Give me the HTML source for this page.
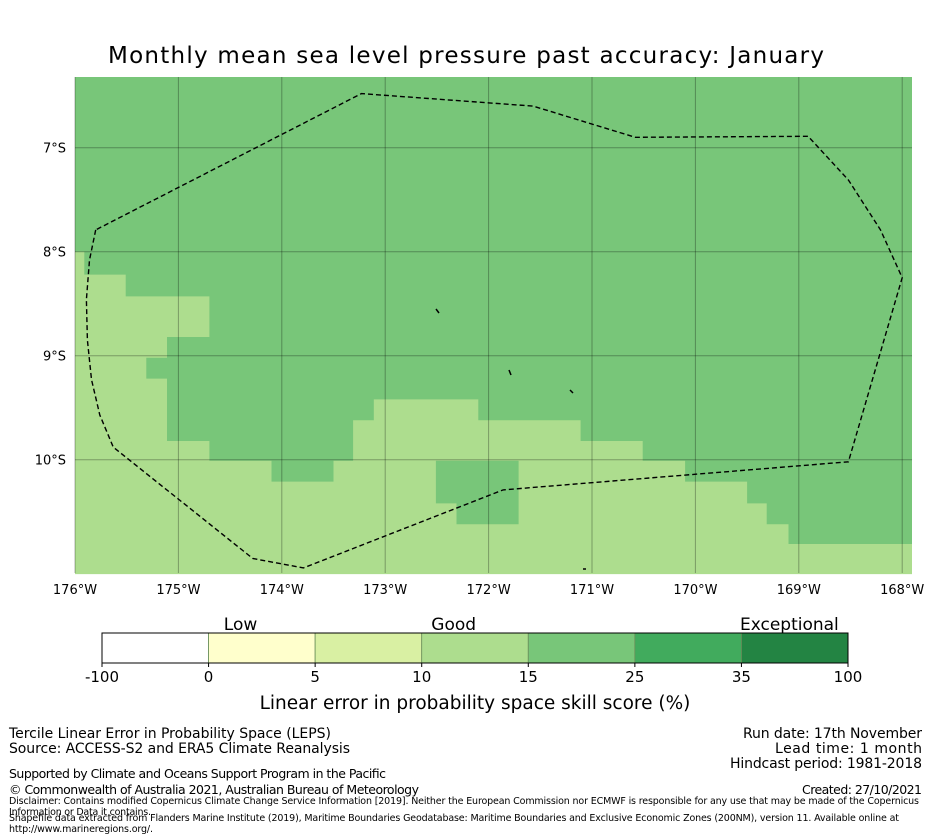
<!DOCTYPE html>
<html><head><meta charset="utf-8"><style>
body{margin:0;background:#fff;}
svg{display:block;font-family:"DejaVu Sans","Liberation Sans",sans-serif;}
</style></head><body>
<svg id="chart" width="931" height="839" viewBox="0 0 931 839">
<text x="466" y="63" font-size="23" text-anchor="middle" textLength="716">Monthly mean sea level pressure past accuracy: January</text>
<g id="map"></g>
<g id="cbar"></g>
<g font-size="14">
<text x="9" y="738" textLength="322">Tercile Linear Error in Probability Space (LEPS)</text>
<text x="9" y="753" textLength="341">Source: ACCESS-S2 and ERA5 Climate Reanalysis</text>
<text x="9" y="778" font-size="12.5" textLength="377">Supported by Climate and Oceans Support Program in the Pacific</text>
<text x="9" y="794" font-size="12.5" textLength="410">© Commonwealth of Australia 2021, Australian Bureau of Meteorology</text>
<text x="9" y="804" font-size="9.5" textLength="910">Disclaimer: Contains modified Copernicus Climate Change Service Information [2019]. Neither the European Commission nor ECMWF is responsible for any use that may be made of the Copernicus</text>
<text x="9" y="815" font-size="9.5" textLength="142">Information or Data it contains.</text>
<text x="9" y="821" font-size="9.5" textLength="890">Shapefile data extracted from Flanders Marine Institute (2019), Maritime Boundaries Geodatabase: Maritime Boundaries and Exclusive Economic Zones (200NM), version 11. Available online at</text>
<text x="9" y="832" font-size="9.5" textLength="144">http://www.marineregions.org/.</text>
<text x="922" y="738" text-anchor="end" textLength="179">Run date: 17th November</text>
<text x="922" y="753" text-anchor="end" textLength="147">Lead time: 1 month</text>
<text x="922" y="768" text-anchor="end" textLength="192">Hindcast period: 1981-2018</text>
<text x="922" y="794" font-size="12.5" text-anchor="end" textLength="120">Created: 27/10/2021</text>
</g>
</svg>
<script>
// data (degrees: lonW positive, latS positive)
const lonTicks=[176,175,174,173,172,171,170,169,168];
const latTicks=[7,8,9,10];
const goodLonW=[176,175.91,175.91,175.51,175.51,174.70,174.70,175.11,175.11,175.31,175.31,175.11,175.11,174.70,174.70,174.10,174.10,173.50,173.50,173.31,173.31,173.11,173.11,172.10,172.10,171.11,171.11,170.51,170.51,170.10,170.10,169.50,169.50,169.31,169.31,169.10,169.10,167.90,167.90,176];
const goodLatS=[8.0,8.0,8.22,8.22,8.43,8.43,8.82,8.82,9.02,9.02,9.22,9.22,9.82,9.82,10.01,10.01,10.21,10.21,10.01,10.01,9.62,9.62,9.42,9.42,9.62,9.62,9.82,9.82,10.01,10.01,10.21,10.21,10.42,10.42,10.62,10.62,10.81,10.81,11.1,11.1];
const patchLonW=[172.51,171.71,171.71,172.31,172.31,172.51];
const patchLatS=[10.01,10.01,10.62,10.62,10.42,10.42];
const eezLonW=[175.80,175.86,175.89,175.88,175.84,175.76,175.63,174.28,173.79,171.86,168.52,168.00,168.21,168.52,168.91,170.58,171.57,173.23,175.80];
const eezLatS=[7.79,8.08,8.46,8.85,9.23,9.57,9.88,10.95,11.04,10.29,10.02,8.25,7.79,7.31,6.89,6.90,6.60,6.48,7.79];
const cbColors=["#ffffff","#ffffcc","#d9f0a3","#addd8e","#78c679","#41ab5d","#238443"];
const cbTicks=["-100","0","5","10","15","25","35","100"];
const cbCats=["Low","Good","Exceptional"];
const cbCatPos=[1.3,3.3,6.45];

const X0=75,X1=912,Y0=77,Y1=573,KX=103.4;
const sx=w=>X0+(176-w)*KX;
const sy=s=>Y0+(s-6.32)*104;
const NS="http://www.w3.org/2000/svg";
function mk(t,a,p){const e=document.createElementNS(NS,t);for(const k in a)e.setAttribute(k,a[k]);p.appendChild(e);return e;}
const map=document.getElementById('map');
const bg=mk('rect',{x:X0,y:Y0,width:X1-X0,height:Y1-Y0,fill:'#78c679'},map);


const pts=(a,b)=>a.map((w,i)=>Math.min(X1,sx(w)).toFixed(1)+','+sy(b[i]).toFixed(1)).join(' ');
const lt=mk('polygon',{points:pts(goodLonW,goodLatS),fill:'#addd8e'},map);


const pa=mk('polygon',{points:pts(patchLonW,patchLatS),fill:'#78c679'},map);


lonTicks.forEach(w=>{
  const l=mk('line',{x1:sx(w),x2:sx(w),y1:Y0,y2:Y1,stroke:'rgba(0,0,0,0.3)','stroke-width':1},map);
  
  
  const t=mk('text',{x:sx(w),y:Y1+21,'font-size':13,'text-anchor':'middle'},map);
  t.textContent=w+'°W';
  
  
});
latTicks.forEach(s=>{
  const l=mk('line',{x1:X0,x2:X1,y1:sy(s),y2:sy(s),stroke:'rgba(0,0,0,0.3)','stroke-width':1},map);
  
  
  const t=mk('text',{x:66,y:sy(s)+5,'font-size':13,'text-anchor':'end'},map);
  t.textContent=s+'°S';
  
  
});
const eez=mk('polyline',{points:pts(eezLonW,eezLatS),fill:'none',stroke:'#000','stroke-width':1.4,'stroke-dasharray':'5,3'},map);


[[436,309,439,313],[509,370,511,375],[570,390,573,393],[583,569,586,569]].forEach(c=>{
  const i=mk('line',{x1:c[0],y1:c[1],x2:c[2],y2:c[3],stroke:'#000','stroke-width':1.5},map);
  
  
});
const cb=document.getElementById('cbar');
const CX0=102,CX1=848,CY=633,CH=30,segW=(CX1-CX0)/cbColors.length;
cbColors.forEach((c,i)=>{
  const r=mk('rect',{x:CX0+i*segW,y:CY,width:segW,height:CH,fill:c,stroke:'#6a8f5a','stroke-width':0.8},cb);
  
  
});
const fr=mk('rect',{x:CX0,y:CY,width:CX1-CX0,height:CH,fill:'none',stroke:'#000','stroke-width':1},cb);


cbTicks.forEach((t,i)=>{
  const x=CX0+i*segW;
  const tk=mk('line',{x1:x,x2:x,y1:CY+CH,y2:CY+CH+4,stroke:'#000'},cb);
  
  
  const e=mk('text',{x:x,y:CY+CH+19,'font-size':15,'text-anchor':'middle'},cb);
  e.textContent=t;
  
  
});
cbCats.forEach((t,i)=>{
  const e=mk('text',{x:CX0+cbCatPos[i]*segW,y:CY-3,'font-size':17,'text-anchor':'middle'},cb);
  e.textContent=t;
  
  
});
const ct=mk('text',{x:475,y:709,'font-size':18.5,'text-anchor':'middle'},cb);
ct.textContent='Linear error in probability space skill score (%)';


</script>
</body></html>
